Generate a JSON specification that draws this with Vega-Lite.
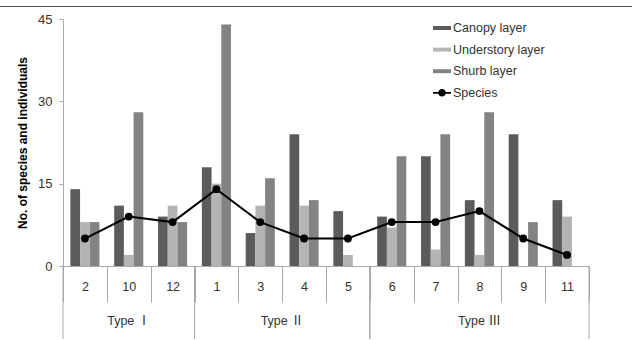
{
  "$schema": "https://vega.github.io/schema/vega-lite/v6.json",
  "width": 633,
  "height": 333,
  "autosize": "none",
  "padding": {"left": -1, "top": 6, "right": 0, "bottom": 0},
  "config": {
    "font": "Liberation Sans",
    "view": {"stroke": "#555555", "strokeWidth": 1},
    "axis": {
      "grid": false,
      "domainColor": "#a8a8a8",
      "tickColor": "#a8a8a8",
      "labelColor": "#333333",
      "labelFont": "Liberation Sans"
    }
  },
  "data": {
    "values": [
      {"site": "2", "type": "Type Ⅰ", "Canopy layer": 14, "Understory layer": 8, "Shurb layer": 8, "Species": 5},
      {"site": "10", "type": "Type Ⅰ", "Canopy layer": 11, "Understory layer": 2, "Shurb layer": 28, "Species": 9},
      {"site": "12", "type": "Type Ⅰ", "Canopy layer": 9, "Understory layer": 11, "Shurb layer": 8, "Species": 8},
      {"site": "1", "type": "Type Ⅱ", "Canopy layer": 18, "Understory layer": 15, "Shurb layer": 44, "Species": 14},
      {"site": "3", "type": "Type Ⅱ", "Canopy layer": 6, "Understory layer": 11, "Shurb layer": 16, "Species": 8},
      {"site": "4", "type": "Type Ⅱ", "Canopy layer": 24, "Understory layer": 11, "Shurb layer": 12, "Species": 5},
      {"site": "5", "type": "Type Ⅱ", "Canopy layer": 10, "Understory layer": 2, "Shurb layer": 0, "Species": 5},
      {"site": "6", "type": "Type Ⅲ", "Canopy layer": 9, "Understory layer": 7, "Shurb layer": 20, "Species": 8},
      {"site": "7", "type": "Type Ⅲ", "Canopy layer": 20, "Understory layer": 3, "Shurb layer": 24, "Species": 8},
      {"site": "8", "type": "Type Ⅲ", "Canopy layer": 12, "Understory layer": 2, "Shurb layer": 28, "Species": 10},
      {"site": "9", "type": "Type Ⅲ", "Canopy layer": 24, "Understory layer": 0, "Shurb layer": 8, "Species": 5},
      {"site": "11", "type": "Type Ⅲ", "Canopy layer": 12, "Understory layer": 9, "Shurb layer": 0, "Species": 2}
    ]
  },
  "layer": [
    {
      "layer": [
        {
          "transform": [
            {"fold": ["Canopy layer", "Understory layer", "Shurb layer"], "as": ["layer", "count"]}
          ],
          "mark": {"type": "bar"},
          "encoding": {
            "x": {
              "field": "site",
              "type": "nominal",
              "sort": null,
              "scale": {"range": [64, 590], "paddingInner": 0, "paddingOuter": 0},
              "axis": {
                "title": null,
                "orient": "bottom",
                "offset": -73,
                "tickBand": "extent",
                "tickSize": 36,
                "labelAngle": 0,
                "labelFontSize": 12.5,
                "labelBaseline": "middle",
                "labelPadding": -16
              }
            },
            "xOffset": {
              "field": "layer",
              "sort": ["Canopy layer", "Understory layer", "Shurb layer"],
              "scale": {"paddingInner": 0, "paddingOuter": 0.76}
            },
            "y": {
              "field": "count",
              "type": "quantitative",
              "scale": {"domain": [0, 45], "range": [260, 13], "nice": false},
              "axis": {
                "title": "No. of species and individuals",
                "offset": -64,
                "values": [0, 15, 30, 45],
                "tickSize": 4,
                "labelPadding": 7,
                "labelFontSize": 13,
                "titleFontSize": 12,
                "titleFontWeight": "bold",
                "titleColor": "#000000",
                "titlePadding": 8
              }
            },
            "color": {
              "field": "layer",
              "type": "nominal",
              "scale": {
                "domain": ["Canopy layer", "Understory layer", "Shurb layer", "Species"],
                "range": ["#5b5b5b", "#b4b4b4", "#838383", "#000000"]
              },
              "legend": {
                "title": null,
                "orient": "none",
                "legendX": 434,
                "legendY": 13,
                "padding": 0,
                "symbolSize": 324,
                "rowPadding": 5.6,
                "labelOffset": 2,
                "labelFontSize": 12.5,
                "labelColor": "#333333",
                "encode": {
                  "symbols": {
                    "update": {
                      "shape": {"signal": "datum.value === 'Species' ? 'M-1,-0.1H1V0.1H-1Z M-0.42,0A0.42,0.42,0,1,1,0.42,0A0.42,0.42,0,1,1,-0.42,0Z' : 'M-1,-0.22H1V0.22H-1Z'"},
                      "fill": {"scale": "color", "field": "value"},
                      "strokeWidth": {"value": 0},
                      "opacity": {"value": 1}
                    }
                  }
                }
              }
            }
          }
        },
        {
          "mark": {"type": "line", "color": "#000000", "strokeWidth": 2, "point": {"filled": true, "size": 62}},
          "encoding": {
            "x": {"field": "site", "type": "nominal", "sort": null},
            "y": {"field": "Species", "type": "quantitative"},
            "color": {"datum": "Species"}
          }
        }
      ]
    },
    {
      "layer": [
        {
          "mark": {"type": "rule", "stroke": "#a8a8a8", "strokeWidth": 1},
          "encoding": {
            "x": {
              "aggregate": "count",
              "type": "quantitative",
              "stack": "zero",
              "bandPosition": 0,
              "scale": {"domain": [0, 12], "range": [64, 590], "nice": false},
              "axis": null
            },
            "detail": {"field": "type"},
            "y": {"datum": 0, "type": "quantitative", "scale": {"domain": [0, 2], "range": [333, 260]}, "axis": null},
            "y2": {"datum": 2}
          }
        },
        {
          "mark": {"type": "rule", "stroke": "#a8a8a8", "strokeWidth": 1},
          "encoding": {
            "x": {
              "aggregate": "count",
              "type": "quantitative",
              "stack": "zero",
              "bandPosition": 1
            },
            "detail": {"field": "type"},
            "y": {"datum": 0, "type": "quantitative"},
            "y2": {"datum": 2}
          }
        },
        {
          "mark": {"type": "text", "fontSize": 12.5, "color": "#333333", "font": "Liberation Sans, Noto Sans CJK KR"},
          "encoding": {
            "x": {
              "aggregate": "count",
              "type": "quantitative",
              "stack": "zero",
              "bandPosition": 0.5
            },
            "detail": {"field": "type"},
            "text": {"field": "type"},
            "y": {"datum": 0.5, "type": "quantitative"}
          }
        }
      ]
    }
  ],
  "resolve": {"scale": {"x": "independent", "y": "independent"}}
}
